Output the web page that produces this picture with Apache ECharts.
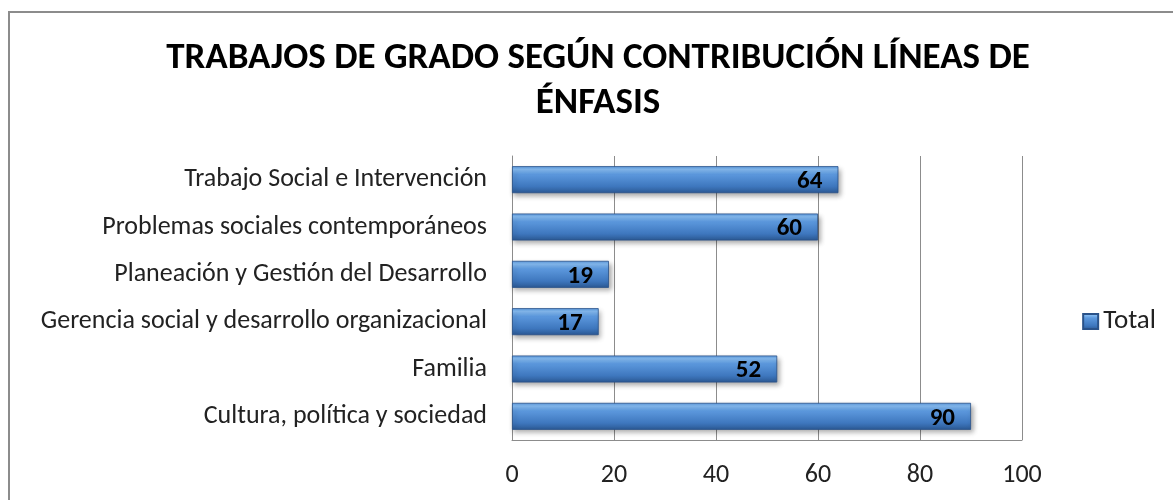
<!DOCTYPE html>
<html>
<head>
<meta charset="utf-8">
<script src="https://cdn.jsdelivr.net/npm/echarts@6/dist/echarts.min.js"></script>
<style>
html,body{margin:0;padding:0;background:#fff;}
#c{width:1173px;height:500px;}
</style>
</head>
<body>
<div id="c"></div>
<script>
const categories = [
  'Cultura, política y sociedad',
  'Familia',
  'Gerencia social y desarrollo organizacional',
  'Planeación y Gestión del Desarrollo',
  'Problemas sociales contemporáneos',
  'Trabajo Social e Intervención'
];
const totals = [90, 52, 17, 19, 60, 64];
const xTicks = [0, 20, 40, 60, 80, 100];
const seriesName = 'Total';
const titleText = 'TRABAJOS DE GRADO SEGÚN CONTRIBUCIÓN LÍNEAS DE\nÉNFASIS';

const FONT = "Carlito, 'Liberation Sans Narrow', 'Open Sans', sans-serif";

const barGradient = new echarts.graphic.LinearGradient(0, 0, 0, 1, [
  {offset: 0, color: '#5a98de'},
  {offset: 0.12, color: '#86bcf2'},
  {offset: 0.3, color: '#5c98dd'},
  {offset: 0.75, color: '#3e77be'},
  {offset: 1, color: '#2b5893'}
]);

const chart = echarts.init(document.getElementById('c'), null, {renderer: 'canvas'});
chart.setOption({
  backgroundColor: '#ffffff',
  animation: false,
  title: {
    text: titleText,
    left: 593,
    top: 31,
    textAlign: 'center',
    textStyle: {fontFamily: FONT, fontWeight: 'bold', fontSize: 37, color: '#000', lineHeight: 45}
  },
  legend: {
    data: [seriesName],
    right: 12,
    top: 303,
    orient: 'vertical',
    itemWidth: 15,
    itemHeight: 15,
    itemGap: 5,
    icon: 'rect',
    textStyle: {fontFamily: FONT, fontSize: 27, color: '#222'}
  },
  graphic: [{
    type: 'rect',
    shape: {x: 9, y: 12, width: 1300, height: 600},
    style: {fill: 'none', stroke: '#8c8c8c', lineWidth: 2},
    silent: true
  }],
  grid: {left: 512, right: 151, top: 156, bottom: 60, containLabel: false},
  xAxis: {
    type: 'value',
    min: 0,
    max: 100,
    interval: 20,
    axisLine: {show: true, lineStyle: {color: '#8c8c8c'}},
    axisTick: {show: false},
    splitLine: {show: true, lineStyle: {color: '#8c8c8c', width: 1}},
    axisLabel: {
      margin: 22,
      fontFamily: FONT, fontSize: 26, color: '#222',
      formatter: v => xTicks.includes(v) ? String(v) : ''
    }
  },
  yAxis: {
    type: 'category',
    data: categories,
    axisLine: {show: true, lineStyle: {color: '#8c8c8c'}},
    axisTick: {show: false},
    splitLine: {show: false},
    axisLabel: {margin: 25, fontFamily: FONT, fontSize: 26, color: '#222'}
  },
  series: [{
    name: seriesName,
    type: 'bar',
    data: totals,
    barWidth: 27,
    itemStyle: {
      color: barGradient,
      borderColor: '#2a5289',
      borderWidth: 0.8,
      shadowColor: 'rgba(0,0,0,0.35)',
      shadowBlur: 5,
      shadowOffsetX: 2,
      shadowOffsetY: 3
    },
    label: {
      show: true,
      position: 'insideRight',
      offset: [-11, 2],
      fontFamily: FONT,
      fontWeight: 'bold',
      fontSize: 25,
      color: '#000'
    }
  }]
});
</script>
</body>
</html>
